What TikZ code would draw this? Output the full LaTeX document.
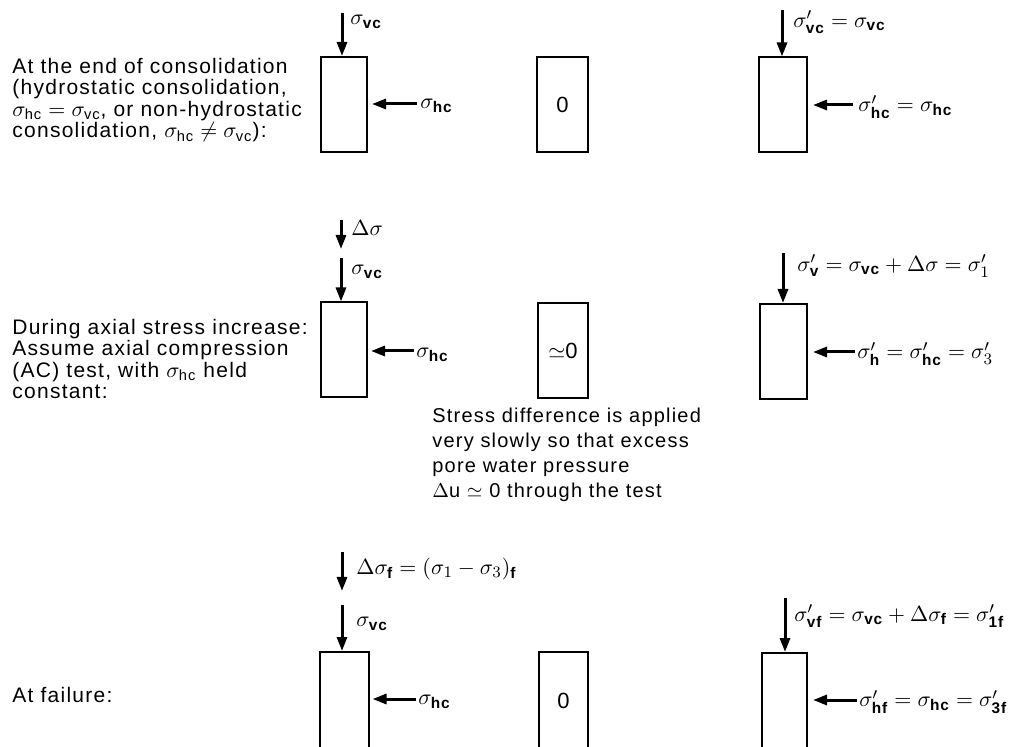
\documentclass[tikz,border=0pt]{standalone}
\usepackage{amsmath}
\usepackage{fontspec}
\setmainfont{Liberation Sans}[LetterSpace=6]
\usetikzlibrary{arrows.meta}

\newcommand{\sgm}[1]{\sigma_{\text{\bfseries #1}}}
\newcommand{\sgp}[1]{\sigma'_{\text{\bfseries #1}}}

\begin{document}
\begin{tikzpicture}[
  x=0.5pt, y=-0.5pt,
  box/.style={draw, line width=1pt, minimum width=23pt, minimum height=47.5pt, inner sep=0pt, font=\fontsize{11}{13}\selectfont},
  load/.style={-{Triangle[length=7pt,width=5pt]}, line width=1.5pt},
  lbl/.style={anchor=west, inner sep=1pt, font=\fontsize{11}{13}\selectfont},
  txt/.style={anchor=west, align=left, inner sep=0pt, font=\fontsize{10.5}{10.8}\selectfont}
]
  \useasboundingbox (0,0) rectangle (1016,747);

  % stage texts
  \node[txt] (t1) at (12,100) {At the end of consolidation\\(hydrostatic consolidation,\\$\sigma_{\text{hc}} = \sigma_{\text{vc}}$, or non-hydrostatic\\consolidation, $\sigma_{\text{hc}} \neq \sigma_{\text{vc}}$):};
  \node[txt] (t2) at (12,359) {During axial stress increase:\\Assume axial compression\\(AC) test, with $\sigma_{\text{hc}}$ held\\constant:};
  \node[txt] (t3) at (12,695) {At failure:};
  \node[txt, font=\fontsize{10}{12.5}\selectfont] (note) at (432,455) {Stress difference is applied\\very slowly so that excess\\pore water pressure\\$\Delta$u $\simeq$ 0 through the test};

  % specimens: total stress, pore pressure, effective stress
  \node[box] (s1) at (344,104.5) {};
  \node[box, minimum width=25.5pt] (u1) at (562.5,104.5) {0};
  \node[box, minimum width=24pt] (e1) at (783,105) {};
  \node[box] (s2) at (344,350) {};
  \node[box, minimum width=25pt] (u2) at (563,350.5) {$\simeq$0};
  \node[box, minimum width=23.5pt] (e2) at (783.5,351.5) {};
  \node[box, minimum width=24.5pt, minimum height=49pt] (s3) at (344,701) {};
  \node[box, minimum width=24.5pt, minimum height=49pt] (u3) at (563.5,701) {0};
  \node[box, minimum width=22.5pt, minimum height=49pt] (e3) at (784.5,702) {};

  % row 1
  \coordinate (s1v) at (342,13);
  \coordinate (s1h) at (417,104);
  \coordinate (e1v) at (782,10);
  \coordinate (e1h) at (853,105);
  \draw[load] (s1v) -- (s1v |- s1.north);
  \draw[load, shorten >=2pt] (s1h) -- (s1h -| s1.east);
  \draw[load] (e1v) -- (e1v |- e1.north);
  \draw[load, shorten >=2.5pt] (e1h) -- (e1h -| e1.east);
  \node[lbl] (s1vl) at (348,22) {$\sgm{vc}$};
  \node[lbl] (s1hl) at (418,106) {$\sgm{hc}$};
  \node[lbl] (e1vl) at (791,22) {$\sgp{vc} = \sgm{vc}$};
  \node[lbl] (e1hl) at (856,107) {$\sgp{hc} = \sgm{hc}$};

  % row 2
  \coordinate (s2d) at (341,220);
  \coordinate (s2da) at (341,249);
  \coordinate (s2v) at (341,258);
  \coordinate (s2h) at (414,351);
  \coordinate (e2v) at (783,253);
  \coordinate (e2h) at (855,352);
  \draw[load] (s2d) -- (s2da);
  \draw[load] (s2v) -- (s2v |- s2.north);
  \draw[load, shorten >=1.5pt] (s2h) -- (s2h -| s2.east);
  \draw[load] (e2v) -- (e2v |- e2.north);
  \draw[load, shorten >=2.5pt] (e2h) -- (e2h -| e2.east);
  \node[lbl] (s2dl) at (349,228) {$\Delta\sigma$};
  \node[lbl] (s2vl) at (349,272) {$\sgm{vc}$};
  \node[lbl] (s2hl) at (414,355) {$\sgm{hc}$};
  \node[lbl] (e2vl) at (795,266) {$\sgp{v} = \sgm{vc} + \Delta\sigma = \sigma'_1$};
  \node[lbl] (e2hl) at (855,354) {$\sgp{h} = \sgp{hc} = \sigma'_3$};

  % row 3
  \coordinate (s3d) at (342,552);
  \coordinate (s3da) at (342,591);
  \coordinate (s3v) at (342,605);
  \coordinate (s3h) at (416,699);
  \coordinate (e3v) at (785,598);
  \coordinate (e3h) at (857,700);
  \draw[load] (s3d) -- (s3da);
  \draw[load] (s3v) -- (s3v |- s3.north);
  \draw[load, shorten >=1.5pt] (s3h) -- (s3h -| s3.east);
  \draw[load] (e3v) -- (e3v |- e3.north);
  \draw[load, shorten >=2.5pt] (e3h) -- (e3h -| e3.east);
  \node[lbl] (s3dl) at (354,569) {$\Delta\sgm{f} = (\sigma_1 - \sigma_3)_{\text{\bfseries f}}$};
  \node[lbl] (s3vl) at (354,624) {$\sgm{vc}$};
  \node[lbl] (s3hl) at (416,702) {$\sgm{hc}$};
  \node[lbl] (e3vl) at (792,616) {$\sgp{vf} = \sgm{vc} + \Delta\sgm{f} = \sigma'_{\text{\bfseries 1f}}$};
  \node[lbl] (e3hl) at (857,702) {$\sgp{hf} = \sgm{hc} = \sigma'_{\text{\bfseries 3f}}$};
\end{tikzpicture}
\end{document}
